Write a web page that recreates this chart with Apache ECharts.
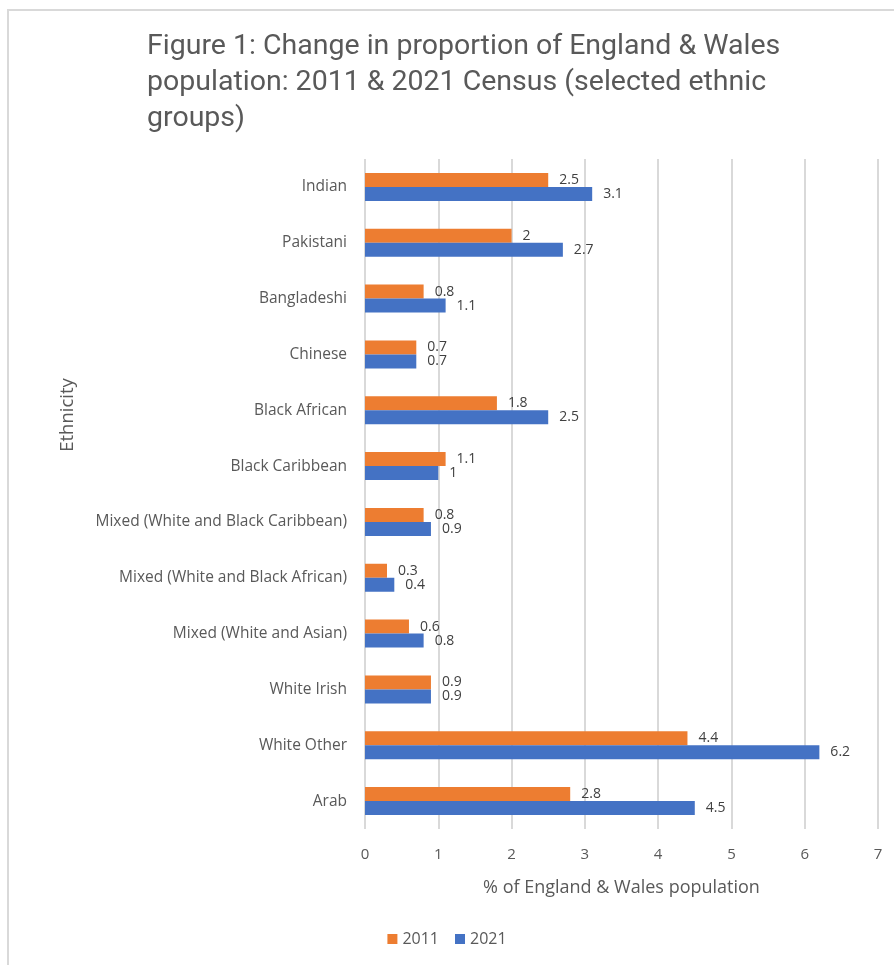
<!DOCTYPE html>
<html>
<head>
<meta charset="utf-8">
<script src="https://cdn.jsdelivr.net/npm/echarts@6/dist/echarts.min.js"></script>
<style>
  html, body { margin: 0; padding: 0; background: #fff; }
  #chart { width: 894px; height: 965px; }
</style>
</head>
<body>
<div id="chart"></div>
<script>
// data
var categories = ['Indian', 'Pakistani', 'Bangladeshi', 'Chinese', 'Black African', 'Black Caribbean',
    'Mixed (White and Black Caribbean)', 'Mixed (White and Black African)', 'Mixed (White and Asian)',
    'White Irish', 'White Other', 'Arab'];
var values2011 = [2.5, 2, 0.8, 0.7, 1.8, 1.1, 0.8, 0.3, 0.6, 0.9, 4.4, 2.8];
var values2021 = [3.1, 2.7, 1.1, 0.7, 2.5, 1, 0.9, 0.4, 0.8, 0.9, 6.2, 4.5];
var xTicks = [0, 1, 2, 3, 4, 5, 6, 7];

var titleFont = 'Roboto, "Liberation Sans", sans-serif';
var fontFamily = '"Open Sans", "Liberation Sans", sans-serif';
var textColor = '#595959';

var chart = echarts.init(document.getElementById('chart'));

function barLabel() {
    return {
        show: true,
        position: 'right',
        distance: 11,
        color: '#404040',
        fontSize: 14,
        fontFamily: fontFamily
    };
}

var option = {
    animation: false,
    backgroundColor: '#fff',
    textStyle: { fontFamily: fontFamily },
    title: {
        text: 'Figure 1: Change in proportion of England & Wales\npopulation: 2011 & 2021 Census (selected ethnic\ngroups)',
        left: 142,
        top: 24,
        textStyle: {
            color: textColor,
            fontSize: 28.5,
            fontWeight: 'normal',
            lineHeight: 36,
            fontFamily: titleFont
        }
    },
    graphic: [
        {
            type: 'rect',
            shape: { x: 8, y: 10, width: 1000, height: 1000 },
            style: { fill: 'none', stroke: '#d9d9d9', lineWidth: 2 },
            silent: true
        },
        {
            type: 'text',
            x: 68,
            y: 415,
            rotation: Math.PI / 2,
            style: {
                text: 'Ethnicity',
                fill: textColor,
                fontSize: 18.5,
                fontFamily: fontFamily,
                align: 'center',
                verticalAlign: 'middle'
            }
        }
    ],
    legend: {
        data: ['2011', '2021'],
        bottom: 13,
        left: 'center',
        itemWidth: 10,
        itemHeight: 10,
        itemGap: 16,
        icon: 'rect',
        textStyle: { color: textColor, fontSize: 16, fontFamily: fontFamily }
    },
    grid: {
        left: 365,
        right: 16,
        top: 159,
        bottom: 136,
        containLabel: false
    },
    xAxis: {
        type: 'value',
        min: xTicks[0],
        max: xTicks[xTicks.length - 1],
        interval: 1,
        name: '% of England & Wales population',
        nameLocation: 'middle',
        nameGap: 50,
        nameTextStyle: { color: textColor, fontSize: 18, fontFamily: fontFamily },
        axisLine: { show: false },
        axisTick: { show: false },
        axisLabel: { color: textColor, fontSize: 15, margin: 18, fontFamily: fontFamily },
        splitLine: { show: true, lineStyle: { color: '#d9d9d9', width: 2 } }
    },
    yAxis: {
        type: 'category',
        data: categories,
        inverse: true,
        axisLine: { show: false },
        axisTick: { show: false },
        axisLabel: { color: textColor, fontSize: 15.5, margin: 18, fontFamily: fontFamily },
        splitLine: { show: false }
    },
    series: [
        {
            name: '2011',
            type: 'bar',
            data: values2011,
            barWidth: 14,
            barGap: '0%',
            itemStyle: { color: '#ED7D31' },
            label: barLabel()
        },
        {
            name: '2021',
            type: 'bar',
            data: values2021,
            barWidth: 14,
            barGap: '0%',
            itemStyle: { color: '#4472C4' },
            label: barLabel()
        }
    ]
};

chart.setOption(option);
</script>
</body>
</html>
